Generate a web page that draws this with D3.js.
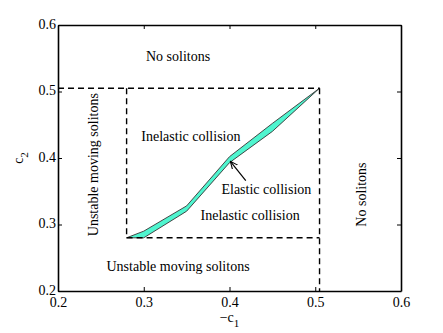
<!DOCTYPE html>
<html><head><meta charset="utf-8">
<script src="https://cdn.jsdelivr.net/npm/d3@7"></script>
<style>body{margin:0;background:#fff}svg{display:block}svg text{font-family:"Liberation Serif","Times New Roman","DejaVu Serif",serif !important}</style>
</head><body>
<script>
const xTicks = [0.2, 0.3, 0.4, 0.5, 0.6];
const yTicks = [0.2, 0.3, 0.4, 0.5, 0.6];
// upper and lower boundary of the elastic-collision band
const bandX     = [0.28, 0.30, 0.35, 0.40, 0.45, 0.505];
const bandUpper = [0.28, 0.29, 0.328, 0.402, 0.452, 0.505];
const bandLower = [0.28, 0.28, 0.32, 0.393, 0.44, 0.505];
// dashed region boundaries: [x1,y1,x2,y2]
const dashedLines = [
  [0.2, 0.505, 0.505, 0.505],
  [0.505, 0.505, 0.505, 0.2],
  [0.28, 0.505, 0.28, 0.28],
  [0.28, 0.28, 0.505, 0.28]
];
const labels = [
  {text: "No solitons", x: 0.34, y: 0.55, rot: 0},
  {text: "Inelastic collision", x: 0.355, y: 0.43, rot: 0},
  {text: "Elastic collision", x: 0.443, y: 0.35, rot: 0},
  {text: "Inelastic collision", x: 0.424, y: 0.312, rot: 0},
  {text: "Unstable moving solitons", x: 0.34, y: 0.235, rot: 0},
  {text: "Unstable moving solitons", x: 0.243, y: 0.39, rot: -90},
  {text: "No solitons", x: 0.555, y: 0.345, rot: -90}
];

const W = 443, H = 333;
const m = {l: 58, t: 25, r: 42, b: 42};
const svg = d3.select("body").append("svg").attr("width", W).attr("height", H);
const x = d3.scaleLinear().domain([0.2, 0.6]).range([m.l, W - m.r]);
const y = d3.scaleLinear().domain([0.2, 0.6]).range([H - m.b, m.t]);

// band
const pts = bandX.map((v, i) => [x(v), y(bandUpper[i])])
  .concat(bandX.slice().reverse().map((v, i) => [x(v), y(bandLower[bandX.length - 1 - i])]));
svg.append("path").attr("d", d3.line()(pts) + "Z")
  .attr("fill", "#4ff5cf").attr("stroke", "#333").attr("stroke-width", 0.9).attr("stroke-linejoin", "round");

// dashed lines
svg.selectAll("line.dash").data(dashedLines).enter().append("line")
  .attr("x1", d => x(d[0])).attr("y1", d => y(d[1]))
  .attr("x2", d => x(d[2])).attr("y2", d => y(d[3]))
  .attr("stroke", "#000").attr("stroke-width", 1.4).attr("stroke-dasharray", "6,4");

// axes (inward ticks, boxed)
const fmt = d3.format(".1f");
const gB = svg.append("g").attr("transform", `translate(0,${H - m.b})`)
  .call(d3.axisBottom(x).tickValues(xTicks).tickFormat(fmt).tickSizeInner(-4).tickSizeOuter(0).tickPadding(6));
const gT = svg.append("g").attr("transform", `translate(0,${m.t})`)
  .call(d3.axisTop(x).tickValues(xTicks).tickFormat("").tickSizeInner(-4).tickSizeOuter(0));
const gL = svg.append("g").attr("transform", `translate(${m.l},0)`)
  .call(d3.axisLeft(y).tickValues(yTicks).tickFormat(fmt).tickSizeInner(-4).tickSizeOuter(0).tickPadding(2));
const gR = svg.append("g").attr("transform", `translate(${W - m.r},0)`)
  .call(d3.axisRight(y).tickValues(yTicks).tickFormat("").tickSizeInner(-4).tickSizeOuter(0));
[gB, gT, gL, gR].forEach(g => {
  g.attr("font-size", 14);
  g.select(".domain").attr("stroke", "#000").attr("stroke-width", 1.6);
  g.selectAll(".tick line").attr("stroke", "#000").attr("stroke-width", 1);
  g.selectAll("text").attr("fill", "#000");
});
gL.selectAll(".tick text").attr("dy", "0.22em");

// region labels
svg.selectAll("text.lab").data(labels).enter().append("text")
  .attr("class", "lab")
  .attr("transform", d => `translate(${x(d.x)},${y(d.y)}) rotate(${d.rot})`)
  .attr("text-anchor", "middle").attr("dominant-baseline", "middle")
  .attr("font-size", 14).attr("fill", "#000").text(d => d.text);

// arrow
svg.append("defs").append("marker").attr("id", "ah").attr("viewBox", "0 0 10 10")
  .attr("refX", 9).attr("refY", 5).attr("markerWidth", 7).attr("markerHeight", 7).attr("orient", "auto")
  .append("path").attr("d", "M0,1 L9,5 L0,9").attr("fill", "none").attr("stroke", "#000").attr("stroke-width", 1.3);
svg.append("line").attr("x1", x(0.419)).attr("y1", y(0.366)).attr("x2", x(0.401)).attr("y2", y(0.395))
  .attr("stroke", "#000").attr("stroke-width", 1.2).attr("marker-end", "url(#ah)");

// axis titles
const xt = svg.append("text").attr("x", x(0.4)).attr("y", 322).attr("text-anchor", "middle").attr("font-size", 14);
xt.append("tspan").text("\u2212c");
xt.append("tspan").attr("dy", 5).attr("font-size", 11).text("1");
const yt = svg.append("text").attr("transform", `translate(23,${y(0.4)}) rotate(-90)`).attr("text-anchor", "middle").attr("font-size", 14);
yt.append("tspan").text("c");
yt.append("tspan").attr("dy", 5).attr("font-size", 11).text("2");
</script>
</body></html>
